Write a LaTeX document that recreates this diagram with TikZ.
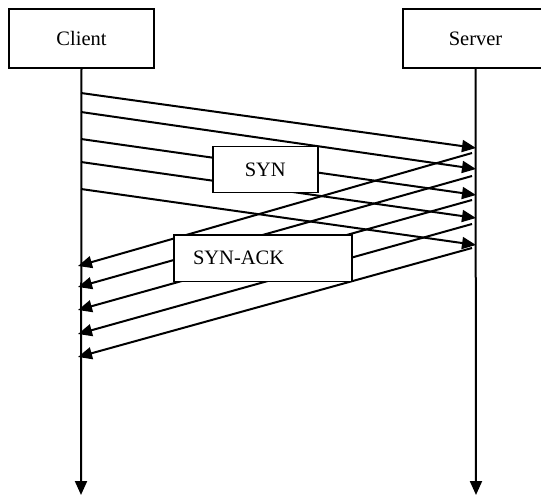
\documentclass[tikz,border=0pt]{standalone}
\usepackage{fontspec}
\setmainfont{Liberation Serif}
\usetikzlibrary{arrows.meta}
\begin{document}
\begin{tikzpicture}[x=1pt,y=-1pt,
  party/.style={draw, line width=1.5pt, fill=white, minimum width=145pt,
    minimum height=59pt, inner sep=0pt, font=\fontsize{20.5}{24}\selectfont},
  msgbox/.style={draw, line width=1.5pt, fill=white, inner sep=0pt,
    font=\fontsize{20.5}{24}\selectfont},
  lifeline/.style={line width=2pt, -{Triangle[length=14pt,width=12pt]}},
  msg/.style={line width=2pt, -{Triangle[length=14pt,width=12pt]}}]
\clip (0,0) rectangle (541,496);
\useasboundingbox (0,0) rectangle (541,496);

% participants
\node[party] (client) at (81.5,38.5) {Client};
\node[party] (server) at (475.5,38.5) {Server};
\coordinate (cend) at (81,495);
\coordinate (send) at (476,495);

% lifelines
\draw[lifeline] (client.south) -- (cend);
\draw[lifeline] (server.south) -- (send);

% SYN segments, client to server
\foreach \i/\ya/\yb in {1/93/148, 2/112/169, 3/139/195, 4/162/218, 5/189/245} {
  \coordinate (ca\i) at (81,\ya);
  \coordinate (sa\i) at (476,\yb);
}
\foreach \i in {1,...,5} \draw[msg] (ca\i) -- (sa\i);

% SYN-ACK segments, server to client
\foreach \i/\ya/\yb in {1/153/266, 2/176/287, 3/200/310, 4/224/334, 5/248/357} {
  \coordinate (sb\i) at (472,\ya);
  \coordinate (cb\i) at (78,\yb);
}
\foreach \i in {1,...,5} \draw[msg] (sb\i) -- (cb\i);

% message labels
\node[msgbox, minimum width=105pt, minimum height=46pt] (syn) at (265.3,169.7) {SYN};
\node[msgbox, text width=178pt, align=left, minimum height=46.7pt] (synack) at (263,258.3)
  {\hspace*{19pt}SYN-ACK};
\end{tikzpicture}
\end{document}
